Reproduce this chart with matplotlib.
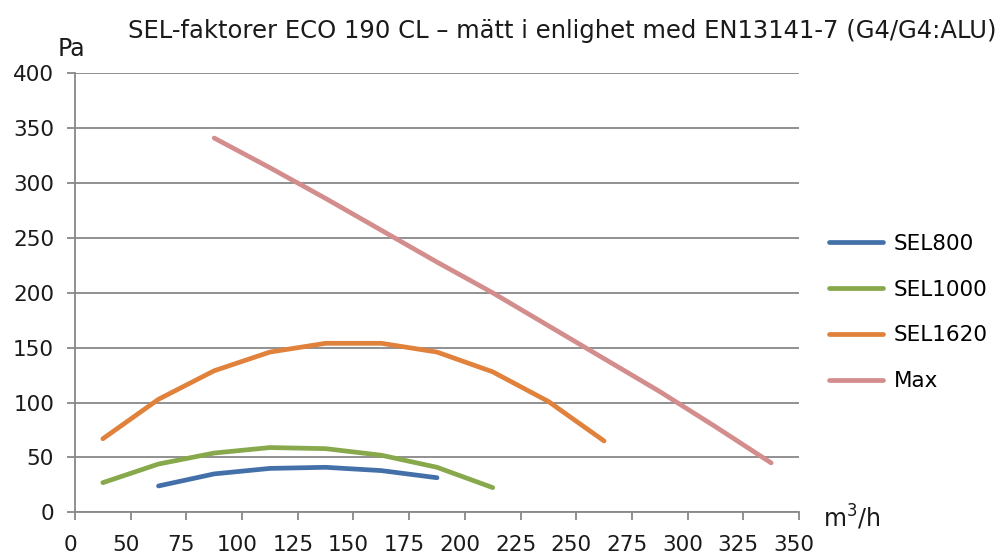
import numpy as np
import matplotlib
matplotlib.use("Agg")
import matplotlib.pyplot as plt
import matplotlib.transforms as mtransforms

# data (x in m3/h, y in Pa)
x_ticks = [25, 50, 75, 100, 125, 150, 175, 200, 225, 250, 275, 300, 325, 350]
x_tick_labels = ['0', '50', '75', '100', '125', '150', '175', '200', '225',
                 '250', '275', '300', '325', '350']

sel800_x = [62.5, 87.5, 112.5, 137.5, 162.5, 187.5]
sel800_y = [24, 35, 40, 41, 38, 31.5]

sel1000_x = [37.5, 62.5, 87.5, 112.5, 137.5, 162.5, 187.5, 212.5]
sel1000_y = [27, 44, 54, 59, 58, 52, 41, 22.5]

sel1620_x = [37.5, 62.5, 87.5, 112.5, 137.5, 162.5, 187.5, 212.5, 237.5, 262.5]
sel1620_y = [67, 103, 129, 146, 154, 154, 146, 128, 101, 65]

max_x = [87.5, 112.5, 137.5, 162.5, 187.5, 212.5, 237.5, 262.5, 287.5, 312.5, 337.5]
max_y = [341, 314, 286, 257, 228, 200, 170, 140, 110, 78, 45]

series = [
    ('SEL800', sel800_x, sel800_y, '#4470A9'),
    ('SEL1000', sel1000_x, sel1000_y, '#87A84B'),
    ('SEL1620', sel1620_x, sel1620_y, '#E0823B'),
    ('Max', max_x, max_y, '#D38D8D'),
]

plt.rcParams['font.family'] = ['DejaVu Sans']
grid_col = '#888888'
text_col = '#1a1a1a'

fig = plt.figure(figsize=(10, 5.58), dpi=100)
ax = fig.add_axes([0.075, 0.0819, 0.724, 0.7867])

for name, xs, ys, col in series:
    ax.plot(xs, ys, color=col, lw=3.4, solid_capstyle='round',
            solid_joinstyle='round', label=name, zorder=3)

ax.set_xlim(25, 350)
ax.set_ylim(0, 400)
ax.set_yticks(np.arange(0, 401, 50))
ax.set_xticks(x_ticks)
ax.set_xticklabels(x_tick_labels)

ax.yaxis.grid(True, color=grid_col, lw=1.3)
ax.set_axisbelow(True)
for s in ['top', 'right']:
    ax.spines[s].set_visible(False)
for s in ['left', 'bottom']:
    ax.spines[s].set_color(grid_col)
    ax.spines[s].set_linewidth(1.3)

ax.tick_params(axis='both', colors=grid_col, labelcolor=text_col,
               labelsize=15.5, length=6, width=1.3)
ax.tick_params(axis='y', pad=9)
ax.tick_params(axis='x', pad=10)

# shift x tick labels slightly left, as in the reference
offset = mtransforms.ScaledTranslation(-5 / 100, 0, fig.dpi_scale_trans)
for lab in ax.get_xticklabels():
    lab.set_transform(lab.get_transform() + offset)

leg = ax.legend(loc='center left', bbox_to_anchor=(1.03, 0.455), frameon=False,
                fontsize=15.5, handlelength=2.5, handletextpad=0.5,
                labelspacing=1.2, borderaxespad=0)

fig.text(0.128, 0.945, 'SEL-faktorer ECO 190 CL – mätt i enlighet med EN13141-7 (G4/G4:ALU)',
         fontsize=17.5, ha='left', va='center', color=text_col)
fig.text(0.071, 0.913, 'Pa', fontsize=17, ha='center', va='center', color=text_col)
fig.text(0.852, 0.073, 'm$^3$/h', fontsize=17, ha='center', va='center', color=text_col)

fig.savefig('out.png', dpi=100)
